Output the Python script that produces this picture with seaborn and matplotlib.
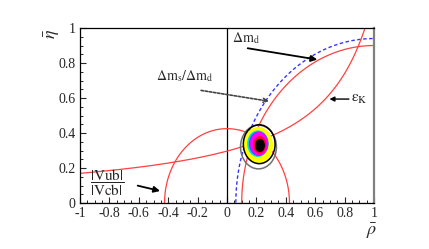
import numpy as np
import pandas as pd
import matplotlib
matplotlib.use("Agg")
import matplotlib.pyplot as plt
import seaborn as sns
from matplotlib.patches import Ellipse

# ---- data ----
x_ticks = [-1, -0.8, -0.6, -0.4, -0.2, 0, 0.2, 0.4, 0.6, 0.8, 1]
x_tick_labels = ["-1", "-0.8", "-0.6", "-0.4", "-0.2", "0", "0.2", "0.4", "0.6", "0.8", "1"]
y_ticks = [0, 0.2, 0.4, 0.6, 0.8, 1]
y_tick_labels = ["0", "0.2", "0.4", "0.6", "0.8", "1"]

vub_radius = [0.425]            # |Vub|/|Vcb| circle around (0,0)
dmd_center = [1.0, 0.0]         # Delta m_d circle centre
dmd_radius = [0.90]
dms_radius = [0.94]             # Delta m_s / Delta m_d circle around (1,0)
epsk_a = [1.335]                # eps_K hyperbola: eta = c / (a - rho)
epsk_c = [0.396]

# probability region (filled levels, outer -> inner)
blob_rho = [0.213, 0.210, 0.215, 0.218, 0.222, 0.224]
blob_eta = [0.330, 0.339, 0.339, 0.339, 0.333, 0.329]
blob_w = [0.100, 0.073, 0.066, 0.062, 0.045, 0.034]
blob_h = [0.105, 0.076, 0.070, 0.067, 0.050, 0.038]
blob_colors = ["#ffff00", "#00e0e0", "#3050ff", "#ff00ff", "#ff0030", "#000000"]
# outline contours
cont_rho = [0.214, 0.219]
cont_eta = [0.320, 0.336]
cont_w = [0.122, 0.108]
cont_h = [0.125, 0.111]
cont_colors = ["#707070", "#000000"]

# ---- build curves ----
t = np.linspace(0, np.pi, 400)
curves = []
curves.append(pd.DataFrame({"rho": vub_radius[0] * np.cos(t),
                            "eta": vub_radius[0] * np.sin(t), "c": "vub"}))
curves.append(pd.DataFrame({"rho": dmd_center[0] + dmd_radius[0] * np.cos(t),
                            "eta": dmd_center[1] + dmd_radius[0] * np.sin(t), "c": "dmd"}))
curves.append(pd.DataFrame({"rho": dmd_center[0] + dms_radius[0] * np.cos(t),
                            "eta": dmd_center[1] + dms_radius[0] * np.sin(t), "c": "dms"}))
r = np.linspace(-1, 0.96, 400)
curves.append(pd.DataFrame({"rho": r, "eta": epsk_c[0] / (epsk_a[0] - r), "c": "epsk"}))

sns.set_style("ticks")
plt.rcParams["font.family"] = ["Liberation Serif", "DejaVu Serif"]
plt.rcParams["mathtext.fontset"] = "stix"

fig = plt.figure(figsize=(4.29, 2.49), dpi=100)
ax = fig.add_axes([0.1865, 0.1847, 0.6853, 0.7028])

red = "#ff4040"
for df in curves:
    name = df["c"].iloc[0]
    if name == "dms":
        sns.lineplot(data=df, x="rho", y="eta", ax=ax, sort=False, estimator=None,
                     color="#3535ff", lw=1.0, linestyle=(0, (2.5, 1.8)))
    else:
        sns.lineplot(data=df, x="rho", y="eta", ax=ax, sort=False, estimator=None,
                     color=red, lw=0.9)

# lines along eta = 0
ax.axhline(0, color=red, lw=0.8, zorder=1)
ax.axhline(0, color="#3535ff", lw=0.8, linestyle=(0, (2.5, 1.8)), zorder=1)
# vertical line at rho = 0
ax.axvline(0, color="black", lw=0.9, zorder=1)

# filled probability region
for cx, cy, w, h, col in zip(blob_rho, blob_eta, blob_w, blob_h, blob_colors):
    ax.add_patch(Ellipse((cx, cy), 2 * w, 2 * h, facecolor=col, edgecolor="none", zorder=3))
for cx, cy, w, h, col in zip(cont_rho, cont_eta, cont_w, cont_h, cont_colors):
    ax.add_patch(Ellipse((cx, cy), 2 * w, 2 * h, facecolor="none", edgecolor=col, lw=1.1, zorder=4))

# labels and arrows
fs = 10
ax.text(0.129, 0.94, r"$\Delta\mathrm{m}_\mathrm{d}$", fontsize=fs, ha="center", va="center")
ax.annotate("", xy=(0.633, 0.817), xytext=(0.122, 0.887),
            arrowprops=dict(arrowstyle="-|>", color="black", lw=1.3, mutation_scale=9))
ax.text(-0.286, 0.726, r"$\Delta\mathrm{m}_\mathrm{s}/\Delta\mathrm{m}_\mathrm{d}$",
        fontsize=fs, ha="center", va="center")
ax.annotate("", xy=(0.304, 0.579), xytext=(-0.195, 0.646),
            arrowprops=dict(arrowstyle="->", color="#444444", lw=1.2, linestyle=(0, (1.5, 1.0)),
                            mutation_scale=7))
ax.text(0.898, 0.589, r"$\mathrm{\varepsilon}_\mathrm{K}$", fontsize=fs + 1, ha="center", va="center")
ax.annotate("", xy=(0.678, 0.594), xytext=(0.848, 0.594),
            arrowprops=dict(arrowstyle="-|>", color="black", lw=1.0, mutation_scale=7))
ax.text(-0.816, 0.114, r"$\dfrac{|\mathrm{Vub}|}{|\mathrm{Vcb}|}$", fontsize=fs + 1,
        ha="center", va="center")
ax.annotate("", xy=(-0.437, 0.065), xytext=(-0.626, 0.103),
            arrowprops=dict(arrowstyle="-|>", color="black", lw=1.3, mutation_scale=9))

# axes styling
ax.set_xlim(-1, 1)
ax.set_ylim(0, 1)
ax.set_xticks(x_ticks)
ax.set_xticklabels(x_tick_labels)
ax.set_yticks(y_ticks)
ax.set_yticklabels(y_tick_labels)
ax.set_xticks(np.arange(-1, 1.001, 0.05), minor=True)
ax.set_yticks(np.arange(0, 1.001, 0.05), minor=True)
ax.tick_params(which="major", direction="in", length=4.5, width=0.8, labelsize=fs, pad=3)
ax.tick_params(which="minor", direction="in", length=2.5, width=0.7)
ax.tick_params(top=False, right=False)
ax.set_xlabel("")
ax.set_ylabel("")
for s in ["left", "bottom", "top"]:
    ax.spines[s].set_color("black")
    ax.spines[s].set_linewidth(0.9)
ax.spines["right"].set_color("#808080")
ax.spines["right"].set_linewidth(1.6)

ax.text(-0.095, 0.965, r"$\bar{\eta}$", transform=ax.transAxes, fontsize=13,
        rotation=90, ha="center", va="center")
ax.text(0.993, -0.165, r"$\bar{\rho}$", transform=ax.transAxes, fontsize=13,
        ha="center", va="center")

fig.savefig("out.png", dpi=100)
